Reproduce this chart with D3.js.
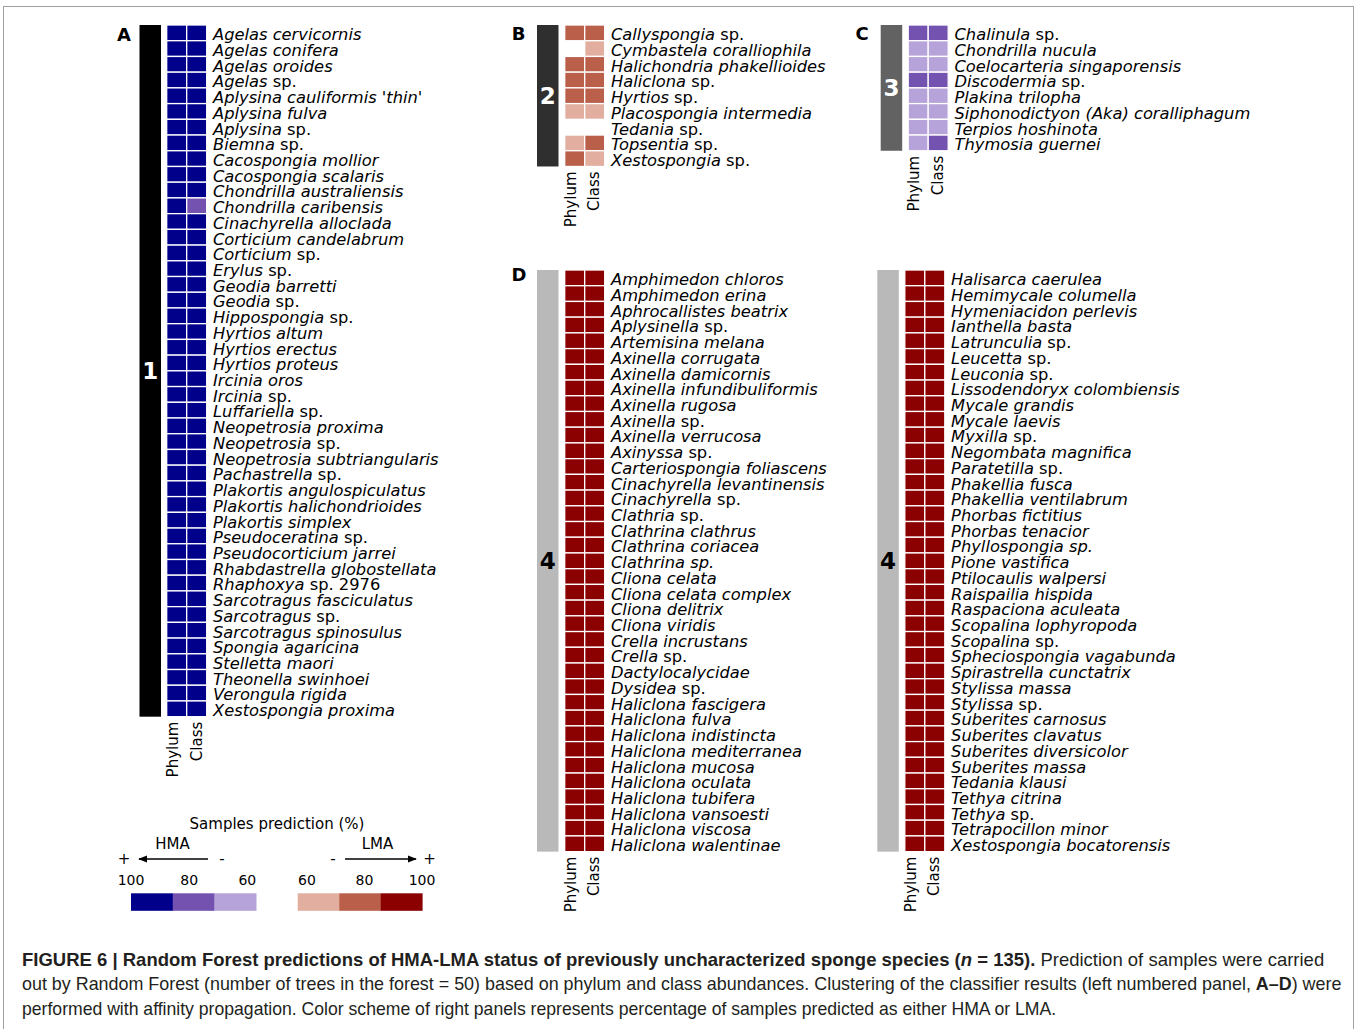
<!DOCTYPE html>
<html>
<head>
<meta charset="utf-8">
<script src="https://cdn.jsdelivr.net/npm/d3@7"></script>
<style>
  body { margin: 0; background: #fff; }
  svg { display: block; }
  text { white-space: pre; }
</style>
</head>
<body>
<script>
// ---- Data: species per cluster, with % of samples predicted HMA (negative) or LMA (positive)
const levels = ["Phylum", "Class"];

const namesA = ["Agelas cervicornis", "Agelas conifera", "Agelas oroides", "Agelas sp.",
  "Aplysina cauliformis 'thin'", "Aplysina fulva", "Aplysina sp.", "Biemna sp.",
  "Cacospongia mollior", "Cacospongia scalaris", "Chondrilla australiensis", "Chondrilla caribensis",
  "Cinachyrella alloclada", "Corticium candelabrum", "Corticium sp.", "Erylus sp.",
  "Geodia barretti", "Geodia sp.", "Hippospongia sp.", "Hyrtios altum",
  "Hyrtios erectus", "Hyrtios proteus", "Ircinia oros", "Ircinia sp.",
  "Luffariella sp.", "Neopetrosia proxima", "Neopetrosia sp.", "Neopetrosia subtriangularis",
  "Pachastrella sp.", "Plakortis angulospiculatus", "Plakortis halichondrioides", "Plakortis simplex",
  "Pseudoceratina sp.", "Pseudocorticium jarrei", "Rhabdastrella globostellata", "Rhaphoxya sp. 2976",
  "Sarcotragus fasciculatus", "Sarcotragus sp.", "Sarcotragus spinosulus", "Spongia agaricina",
  "Stelletta maori", "Theonella swinhoei", "Verongula rigida", "Xestospongia proxima"];
const phylumA = [-100, -100, -100, -100, -100, -100, -100, -100, -100, -100, -100,
  -100, -100, -100, -100, -100, -100, -100, -100, -100, -100, -100,
  -100, -100, -100, -100, -100, -100, -100, -100, -100, -100, -100,
  -100, -100, -100, -100, -100, -100, -100, -100, -100, -100, -100];
const classA = [-100, -100, -100, -100, -100, -100, -100, -100, -100, -100, -100,
  -80, -100, -100, -100, -100, -100, -100, -100, -100, -100, -100,
  -100, -100, -100, -100, -100, -100, -100, -100, -100, -100, -100,
  -100, -100, -100, -100, -100, -100, -100, -100, -100, -100, -100];

const namesB = ["Callyspongia sp.", "Cymbastela coralliophila", "Halichondria phakellioides",
  "Haliclona sp.", "Hyrtios sp.", "Placospongia intermedia", "Tedania sp.", "Topsentia sp.",
  "Xestospongia sp."];
const phylumB = [80, null, 80, 80, 80, 60, null, 60, 80];
const classB = [80, 60, 80, 80, 80, 60, null, 80, 60];

const namesC = ["Chalinula sp.", "Chondrilla nucula", "Coelocarteria singaporensis", "Discodermia sp.",
  "Plakina trilopha", "Siphonodictyon (Aka) coralliphagum", "Terpios hoshinota", "Thymosia guernei"];
const phylumC = [-80, -60, -60, -80, -60, -60, -60, -60];
const classC = [-80, -60, -60, -80, -60, -60, -60, -80];

const namesD1 = ["Amphimedon chloros", "Amphimedon erina", "Aphrocallistes beatrix", "Aplysinella sp.",
  "Artemisina melana", "Axinella corrugata", "Axinella damicornis", "Axinella infundibuliformis",
  "Axinella rugosa", "Axinella sp.", "Axinella verrucosa", "Axinyssa sp.",
  "Carteriospongia foliascens", "Cinachyrella levantinensis", "Cinachyrella sp.", "Clathria sp.",
  "Clathrina clathrus", "Clathrina coriacea", "Clathrina sp.", "Cliona celata",
  "Cliona celata complex", "Cliona delitrix", "Cliona viridis", "Crella incrustans",
  "Crella sp.", "Dactylocalycidae", "Dysidea sp.", "Haliclona fascigera",
  "Haliclona fulva", "Haliclona indistincta", "Haliclona mediterranea", "Haliclona mucosa",
  "Haliclona oculata", "Haliclona tubifera", "Haliclona vansoesti", "Haliclona viscosa",
  "Haliclona walentinae"];
const phylumD1 = [100, 100, 100, 100, 100, 100, 100, 100, 100, 100, 100, 100, 100,
  100, 100, 100, 100, 100, 100, 100, 100, 100, 100, 100, 100,
  100, 100, 100, 100, 100, 100, 100, 100, 100, 100, 100, 100];
const classD1 = [100, 100, 100, 100, 100, 100, 100, 100, 100, 100, 100, 100, 100,
  100, 100, 100, 100, 100, 100, 100, 100, 100, 100, 100, 100,
  100, 100, 100, 100, 100, 100, 100, 100, 100, 100, 100, 100];

const namesD2 = ["Halisarca caerulea", "Hemimycale columella", "Hymeniacidon perlevis", "Ianthella basta",
  "Latrunculia sp.", "Leucetta sp.", "Leuconia sp.", "Lissodendoryx colombiensis",
  "Mycale grandis", "Mycale laevis", "Myxilla sp.", "Negombata magnifica",
  "Paratetilla sp.", "Phakellia fusca", "Phakellia ventilabrum", "Phorbas fictitius",
  "Phorbas tenacior", "Phyllospongia sp.", "Pione vastifica", "Ptilocaulis walpersi",
  "Raispailia hispida", "Raspaciona aculeata", "Scopalina lophyropoda", "Scopalina sp.",
  "Spheciospongia vagabunda", "Spirastrella cunctatrix", "Stylissa massa", "Stylissa sp.",
  "Suberites carnosus", "Suberites clavatus", "Suberites diversicolor", "Suberites massa",
  "Tedania klausi", "Tethya citrina", "Tethya sp.", "Tetrapocillon minor",
  "Xestospongia bocatorensis"];
const phylumD2 = [100, 100, 100, 100, 100, 100, 100, 100, 100, 100, 100, 100, 100,
  100, 100, 100, 100, 100, 100, 100, 100, 100, 100, 100, 100,
  100, 100, 100, 100, 100, 100, 100, 100, 100, 100, 100, 100];
const classD2 = [100, 100, 100, 100, 100, 100, 100, 100, 100, 100, 100, 100, 100,
  100, 100, 100, 100, 100, 100, 100, 100, 100, 100, 100, 100,
  100, 100, 100, 100, 100, 100, 100, 100, 100, 100, 100, 100];

// Names whose "sp." is set in italics too
const fullyItalic = ["Clathrina sp.", "Phyllospongia sp."];

// Legend ticks
const hmaTicks = [100, 80, 60];
const lmaTicks = [60, 80, 100];

// ---- Colours
const predColor = d3.scaleOrdinal()
  .domain([-100, -80, -60, 60, 80, 100])
  .range(["#00008b", "#7452b0", "#b5a3d9", "#e2ae9f", "#b95f4a", "#8b0000"]);

const W = 1357, H = 1029;
const rowH = 15.72, colW = 20, barW = 21.5;
const labelFont = "'DejaVu Sans', 'Liberation Sans', sans-serif";

const svg = d3.select("body").append("svg")
  .attr("width", W).attr("height", H)
  .style("font-family", labelFont);

// frame
svg.append("rect")
  .attr("x", 3.5).attr("y", 6.5).attr("width", 1350).attr("height", 1040)
  .attr("fill", "none").attr("stroke", "#a0a0a0").attr("stroke-width", 1);

const panels = [
  { names: namesA, phylum: phylumA, cls: classA, cluster: "1", barFill: "#000000", numFill: "#ffffff",
    barX: 139.5, cellX: 166.7, top: 25, letter: "A", lx: 124, ly: 41, phyOff: -4, clsOff: 0.5 },
  { names: namesB, phylum: phylumB, cls: classB, cluster: "2", barFill: "#2f2f2f", numFill: "#ffffff",
    barX: 537, cellX: 564.7, top: 25, letter: "B", lx: 518.5, ly: 39.5, phyOff: -4, clsOff: -0.5 },
  { names: namesC, phylum: phylumC, cls: classC, cluster: "3", barFill: "#626262", numFill: "#ffffff",
    barX: 880.7, cellX: 908.2, top: 25, letter: "C", lx: 862, ly: 40, phyOff: -4, clsOff: -0.5 },
  { names: namesD1, phylum: phylumD1, cls: classD1, cluster: "4", barFill: "#b9b9b9", numFill: "#000000",
    barX: 537, cellX: 564.7, top: 270, letter: "D", lx: 519, ly: 280.5, phyOff: -4, clsOff: -0.5 },
  { names: namesD2, phylum: phylumD2, cls: classD2, cluster: "4", barFill: "#b9b9b9", numFill: "#000000",
    barX: 877.3, cellX: 904.8, top: 270, letter: null, phyOff: -4, clsOff: -0.5 }
];

function nameParts(name) {
  if (fullyItalic.includes(name)) return [{ t: name, it: true }];
  const k = name.indexOf(" sp.");
  if (k >= 0) return [{ t: name.slice(0, k), it: true }, { t: name.slice(k), it: false }];
  return [{ t: name, it: true }];
}

panels.forEach(p => {
  const n = p.names.length;
  const y = d3.scaleBand().domain(d3.range(n)).range([p.top, p.top + n * rowH]);
  const x = d3.scaleBand().domain(levels).range([p.cellX, p.cellX + levels.length * colW]);
  const g = svg.append("g");

  // cluster bar with its number
  g.append("rect")
    .attr("x", p.barX).attr("y", p.top)
    .attr("width", barW).attr("height", n * rowH)
    .attr("fill", p.barFill);
  g.append("text")
    .attr("x", p.barX + barW / 2)
    .attr("y", p.top + n * rowH / 2 + 8.3)
    .attr("text-anchor", "middle")
    .attr("font-weight", "bold")
    .attr("font-size", 23)
    .attr("fill", p.numFill)
    .text(p.cluster);

  // panel letter
  if (p.letter) {
    g.append("text")
      .attr("x", p.lx).attr("y", p.ly)
      .attr("text-anchor", "middle")
      .attr("font-weight", "bold")
      .attr("font-size", 18)
      .attr("fill", "#000")
      .text(p.letter);
  }

  // heatmap cells
  const cells = [];
  p.names.forEach((nm, i) => {
    cells.push({ i, lev: "Phylum", v: p.phylum[i] });
    cells.push({ i, lev: "Class", v: p.cls[i] });
  });
  g.selectAll("rect.cell")
    .data(cells.filter(d => d.v !== null))
    .join("rect")
    .attr("class", "cell")
    .attr("x", d => x(d.lev)).attr("y", d => y(d.i))
    .attr("width", x.bandwidth()).attr("height", y.bandwidth())
    .attr("fill", d => predColor(d.v))
    .attr("stroke", "#ffffff").attr("stroke-width", 1.3);

  // species labels
  const labels = g.selectAll("text.sp")
    .data(p.names)
    .join("text")
    .attr("class", "sp")
    .attr("x", p.cellX + levels.length * colW + 6.3)
    .attr("y", (d, i) => y(i) + 15.2)
    .attr("font-size", 16.3)
    .attr("fill", "#000");
  labels.selectAll("tspan")
    .data(d => nameParts(d))
    .join("tspan")
    .attr("font-style", d => d.it ? "oblique" : "normal")
    .text(d => d.t);

  // column labels
  const bottom = p.top + n * rowH;
  g.selectAll("text.lev")
    .data(levels)
    .join("text")
    .attr("class", "lev")
    .attr("transform", d => `translate(${x(d) + x.bandwidth() / 2 + (d === "Phylum" ? p.phyOff : p.clsOff)},${bottom + 5}) rotate(-90)`)
    .attr("text-anchor", "end")
    .attr("dominant-baseline", "central")
    .attr("font-size", 15)
    .attr("fill", "#000")
    .text(d => d);
});

// ---- Legend
const leg = svg.append("g").attr("font-size", 15).attr("fill", "#000");
leg.append("text").attr("x", 277).attr("y", 828.5).attr("text-anchor", "middle")
  .text("Samples prediction (%)");
leg.append("text").attr("x", 172.5).attr("y", 849).attr("text-anchor", "middle").text("HMA");
leg.append("text").attr("x", 377.5).attr("y", 849).attr("text-anchor", "middle").text("LMA");

const defs = svg.append("defs");
defs.append("marker").attr("id", "head")
  .attr("viewBox", "0 0 10 10").attr("refX", 9).attr("refY", 5)
  .attr("markerWidth", 9).attr("markerHeight", 9)
  .attr("markerUnits", "userSpaceOnUse")
  .attr("orient", "auto")
  .append("path").attr("d", "M0,1 L10,5 L0,9 Z").attr("fill", "#000");

leg.append("line").attr("x1", 208).attr("y1", 859).attr("x2", 139).attr("y2", 859)
  .attr("stroke", "#000").attr("stroke-width", 1.6).attr("marker-end", "url(#head)");
leg.append("line").attr("x1", 345).attr("y1", 859).attr("x2", 416).attr("y2", 859)
  .attr("stroke", "#000").attr("stroke-width", 1.6).attr("marker-end", "url(#head)");

[["+", 124], ["-", 222], ["-", 333], ["+", 429.5]].forEach(([s, xx]) => {
  leg.append("text").attr("x", xx).attr("y", 864).attr("text-anchor", "middle").text(s);
});

function legendScale(ticks, sign, x0, x1, t0, t1) {
  const band = d3.scaleBand().domain(ticks).range([x0, x1]);
  const pt = d3.scalePoint().domain(ticks).range([t0, t1]);
  leg.selectAll(null).data(ticks).join("rect")
    .attr("x", d => band(d)).attr("y", 893.3)
    .attr("width", band.bandwidth() + 0.3).attr("height", 17.5)
    .attr("fill", d => predColor(sign * d));
  leg.selectAll(null).data(ticks).join("text")
    .attr("x", d => pt(d)).attr("y", 884.7)
    .attr("text-anchor", "middle").attr("font-size", 14)
    .text(d => d);
}
legendScale(hmaTicks, -1, 131, 256.2, 131, 247.3);
legendScale(lmaTicks, 1, 297.7, 422.3, 307, 422);

// ---- Caption
const captionLines = [
  { y: 965.5, w: 1303, parts: [
    { t: "FIGURE 6 | Random Forest predictions of HMA-LMA status of previously uncharacterized sponge species (", b: true },
    { t: "n", b: true, i: true },
    { t: " = 135).", b: true },
    { t: " Prediction of samples were carried" }] },
  { y: 990, w: 1321, parts: [
    { t: "out by Random Forest (number of trees in the forest = 50) based on phylum and class abundances. Clustering of the classifier results (left numbered panel, " },
    { t: "A\u2013D", b: true },
    { t: ") were" }] },
  { y: 1014.5, w: 1035, parts: [
    { t: "performed with affinity propagation. Color scheme of right panels represents percentage of samples predicted as either HMA or LMA." }] }
];
captionLines.forEach(line => {
  const t = svg.append("text")
    .attr("x", 0).attr("y", 0)
    .attr("font-family", "'Liberation Sans', Arial, sans-serif")
    .attr("font-size", 17.5)
    .attr("fill", "#231f20");
  line.parts.forEach(pt => {
    t.append("tspan")
      .attr("font-weight", pt.b ? "bold" : "normal")
      .attr("font-style", pt.i ? "italic" : "normal")
      .text(pt.t);
  });
  const natural = t.node().getComputedTextLength();
  t.attr("transform", `translate(22,${line.y}) scale(${line.w / natural},1)`);
});
</script>
</body>
</html>
